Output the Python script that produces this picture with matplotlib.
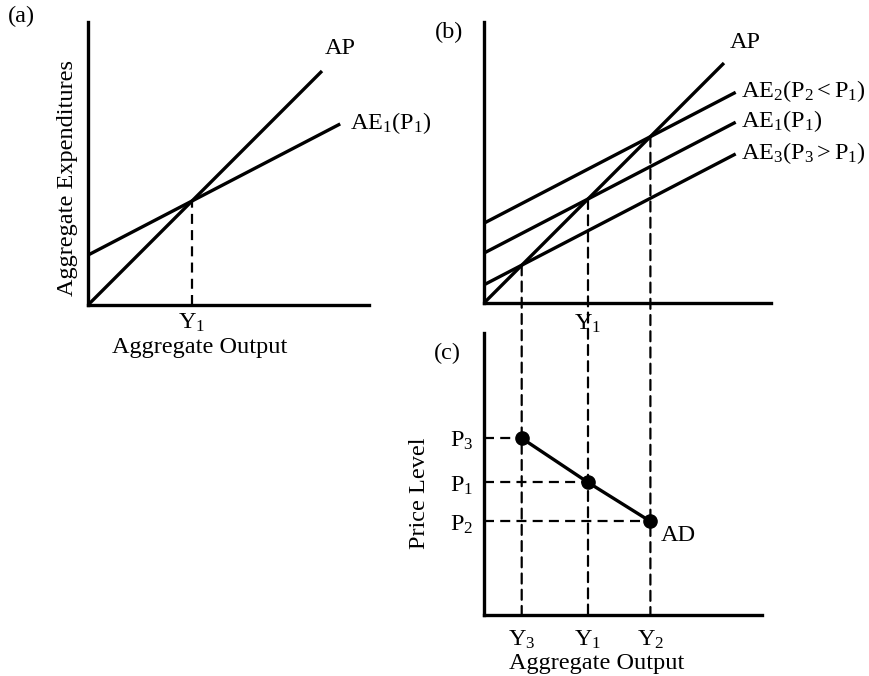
import matplotlib.pyplot as plt
from matplotlib.patches import ConnectionPatch

plt.rcParams['font.family'] = ['Liberation Serif', 'DejaVu Serif']
plt.rcParams['mathtext.fontset'] = 'custom'
plt.rcParams['mathtext.rm'] = 'Liberation Serif'
plt.rcParams['mathtext.it'] = 'Liberation Serif:italic'
plt.rcParams['mathtext.default'] = 'regular'

# equilibrium outputs for P3, P1, P2 (panel b / c)
y_eq = [1.45, 4.0, 6.4]
y_names = ['$Y_3$', '$Y_1$', '$Y_2$']
# price levels for the same three points
prices = [6.8, 5.1, 3.6]
p_names = ['$P_3$', '$P_1$', '$P_2$']
# AE lines: slope and intercepts (AE3, AE1, AE2)
ae_slope = 0.52
ae_icpt = [0.70, 1.92, 3.07]
ae_names = [r'$AE_3(P_3>P_1)$', r'$AE_1(P_1)$', r'$AE_2(P_2<P_1)$']

W, H = 870, 676
PX = 26.0  # pixels per data unit
FS = 17.5
LW = 2.4
DLW = 1.6
DASH = (0, (4.5, 2.8))

fig = plt.figure(figsize=(W / 100, H / 100), dpi=100)


def panel(left, bottom, xmax, ymax):
    ax = fig.add_axes([left / W, (H - bottom) / H, xmax * PX / W, ymax * PX / H])
    ax.set_xlim(0, xmax)
    ax.set_ylim(0, ymax)
    for s in ['top', 'right']:
        ax.spines[s].set_visible(False)
    for s in ['left', 'bottom']:
        ax.spines[s].set_linewidth(LW)
    ax.set_xticks([])
    ax.set_yticks([])
    ax.patch.set_alpha(0)
    return ax


def px(pt):
    # pixel offsets -> points
    return pt * 72 / 100


# ---------------- panel (a)
axa = panel(88, 305, 10.8, 10.9)
axa.plot([0, 9.0], [0, 9.0], color='k', lw=LW, solid_capstyle='butt')
axa.plot([0, 9.7], [ae_icpt[1], ae_icpt[1] + ae_slope * 9.7], color='k', lw=LW,
         solid_capstyle='butt')
axa.plot([y_eq[1], y_eq[1]], [0, y_eq[1]], color='k', lw=DLW, ls=DASH)
axa.annotate('AP', xy=(9.0, 9.0), xytext=(px(3), px(23)), textcoords='offset points',
             fontsize=FS, va='center', ha='left')
axa.annotate(r'$AE_1(P_1)$', xy=(9.7, ae_icpt[1] + ae_slope * 9.7), xytext=(px(10), px(1)),
             textcoords='offset points', fontsize=FS, va='center', ha='left')
axa.annotate(y_names[1], xy=(y_eq[1], 0), xytext=(0, px(-18)), textcoords='offset points',
             fontsize=FS, ha='center', va='center')
axa.annotate('Aggregate Output', xy=(4.3, 0), xytext=(0, px(-42)), textcoords='offset points',
             fontsize=FS, ha='center', va='center')
axa.annotate('Aggregate Expenditures', xy=(0, 4.9), xytext=(px(-20), 0),
             textcoords='offset points', fontsize=FS, ha='center', va='center', rotation=90)
fig.text(8 / W, 1 - 16 / H, '(a)', fontsize=FS, ha='left', va='center')

# ---------------- panel (b)
axb = panel(484, 303, 11.05, 10.8)
axb.plot([0, 9.23], [0, 9.23], color='k', lw=LW, solid_capstyle='butt')
axb.annotate('AP', xy=(9.23, 9.23), xytext=(px(6), px(21)), textcoords='offset points',
             fontsize=FS, va='center', ha='left')
for a, name in zip(ae_icpt, ae_names):
    xe = 9.68
    axb.plot([0, xe], [a, a + ae_slope * xe], color='k', lw=LW, solid_capstyle='butt')
    axb.annotate(name, xy=(xe, a + ae_slope * xe), xytext=(px(5), px(1)),
                 textcoords='offset points', fontsize=FS, va='center', ha='left')
axb.annotate(y_names[1], xy=(y_eq[1], 0), xytext=(0, px(-21)), textcoords='offset points',
             fontsize=FS, ha='center', va='center', zorder=5,
             bbox=dict(boxstyle='square,pad=0.05', fc='white', ec='none'))
fig.text(435 / W, 1 - 32 / H, '(b)', fontsize=FS, ha='left', va='center')

# ---------------- panel (c)
axc = panel(484, 615, 10.7, 10.85)
axc.plot(y_eq, prices, color='k', lw=LW, marker='o', ms=9.5, solid_capstyle='butt')
for yv, pv, yn, pn in zip(y_eq, prices, y_names, p_names):
    axc.plot([0, yv], [pv, pv], color='k', lw=DLW, ls=DASH)
    axc.annotate(yn, xy=(yv, 0), xytext=(0, px(-25)), textcoords='offset points',
                 fontsize=FS, ha='center', va='center')
    axc.annotate(pn, xy=(0, pv), xytext=(px(-22), px(-3)), textcoords='offset points',
                 fontsize=FS, ha='center', va='center')
    # dashed drop line from panel (b) intersection down to panel (c) axis
    con = ConnectionPatch(xyA=(yv, yv), coordsA=axb.transData,
                          xyB=(yv, 0), coordsB=axc.transData,
                          color='k', lw=DLW, ls=DASH, zorder=1)
    fig.add_artist(con)
axc.annotate('AD', xy=(y_eq[2], prices[2]), xytext=(px(10), px(-14)),
             textcoords='offset points', fontsize=FS, ha='left', va='center')
axc.annotate('Aggregate Output', xy=(4.35, 0), xytext=(0, px(-48)),
             textcoords='offset points', fontsize=FS, ha='center', va='center')
axc.annotate('Price Level', xy=(0, 4.7), xytext=(px(-64), 0),
             textcoords='offset points', fontsize=FS, ha='center', va='center', rotation=90)
fig.text(434 / W, 1 - 353 / H, '(c)', fontsize=FS, ha='left', va='center')

fig.savefig('out.png', dpi=100)
